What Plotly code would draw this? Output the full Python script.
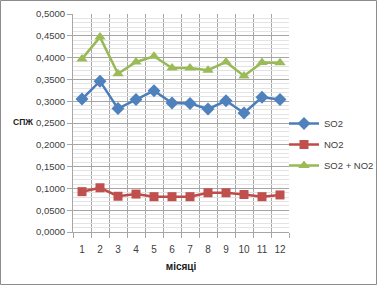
import plotly.graph_objects as go

months = [1, 2, 3, 4, 5, 6, 7, 8, 9, 10, 11, 12]
so2 = [0.305, 0.346, 0.283, 0.304, 0.324, 0.296, 0.295, 0.282, 0.301, 0.273, 0.309, 0.304]
no2 = [0.0925, 0.1015, 0.082, 0.087, 0.081, 0.081, 0.081, 0.090, 0.090, 0.086, 0.081, 0.085]
so2_no2 = [0.397, 0.447, 0.363, 0.390, 0.403, 0.376, 0.376, 0.371, 0.390, 0.358, 0.389, 0.388]

W, H = 378, 286
L, R, T, B = 73, 89, 14, 54
pw, ph = W - L - R, H - T - B

FONT = "Liberation Sans, Arial, sans-serif"
FS = 9.5

fig = go.Figure()
fig.add_trace(go.Scatter(x=months, y=so2, name="SO2", mode="lines+markers", legendgroup="a",
                         line=dict(color="#4A7EBB", width=2.5),
                         marker=dict(symbol="diamond", size=10, color="#4F81BD")))
fig.add_trace(go.Scatter(x=months, y=no2, name="NO2", mode="lines+markers", legendgroup="b",
                         line=dict(color="#BE4B48", width=2.5),
                         marker=dict(symbol="square", size=9, color="#C0504D")))
fig.add_trace(go.Scatter(x=months, y=so2_no2, name="SO2 + NO2", mode="lines+markers", legendgroup="c",
                         line=dict(color="#98B954", width=2.5),
                         marker=dict(symbol="triangle-up", size=10, color="#9BBB59")))

fig.update_layout(
    width=W, height=H,
    margin=dict(l=L, r=R, t=T, b=B, autoexpand=False),
    paper_bgcolor="white", plot_bgcolor="white",
    separators=", ",
    font=dict(family=FONT, size=FS, color="#404040"),
    showlegend=True,
    legend=dict(xref="container", yref="container",
                x=284 / W, y=1 - 109 / H, xanchor="left", yanchor="top",
                font=dict(family=FONT, size=FS, color="#404040"),
                bgcolor="rgba(0,0,0,0)", itemwidth=30, tracegroupgap=2),
    xaxis=dict(range=[0.5, 12.5], tickmode="linear", tick0=1, dtick=1,
               showgrid=False, ticks="outside", ticklen=8, tickcolor="rgba(0,0,0,0)",
               zeroline=False,
               showline=True, linecolor="#A6A6A6", linewidth=1,
               tickfont=dict(size=FS + 0.5, color="#404040"),
               title=dict(text="<b>місяці</b>", standoff=8,
                          font=dict(size=FS + 0.5, color="#202020")),
               minor=dict(tick0=0.5, dtick=1, showgrid=True, gridcolor="#A6A6A6",
                          gridwidth=1, ticks="outside", ticklen=5, tickcolor="#A6A6A6")),
    yaxis=dict(range=[0, 0.5], tickmode="linear", tick0=0, dtick=0.05,
               tickformat=".4f", showgrid=True, gridcolor="#A6A6A6", gridwidth=1,
               zeroline=False, showline=True, linecolor="#A6A6A6", linewidth=1,
               ticks="outside", ticklen=5, tickcolor="#A6A6A6",
               tickfont=dict(size=FS, color="#404040"),
               minor=dict(dtick=0.01, showgrid=True, gridcolor="#E3E3E3", gridwidth=1)),
)

fig.add_annotation(text="<b>СПЖ</b>", xref="paper", yref="paper",
                   x=(23 - L) / pw, y=(232 - 122) / ph, showarrow=False,
                   xanchor="center", yanchor="middle",
                   font=dict(family=FONT, size=8.5, color="#202020"))

fig.add_shape(type="rect", xref="paper", yref="paper",
              x0=(0.5 - L) / pw, x1=(W - 1.5 - L) / pw,
              y0=(232 - (H - 1.5)) / ph, y1=(232 - 0.5) / ph,
              line=dict(color="#8C8C8C", width=1), layer="below")

fig.write_html("out.html")
